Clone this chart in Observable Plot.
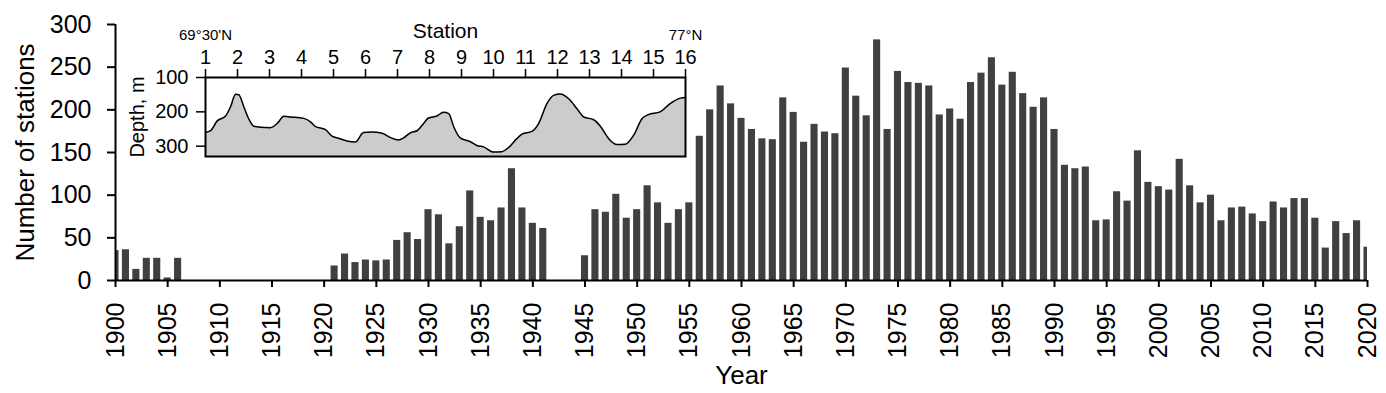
<!DOCTYPE html>
<html>
<head>
<meta charset="utf-8">
<script src="https://cdn.jsdelivr.net/npm/d3@7"></script>
<script src="https://cdn.jsdelivr.net/npm/@observablehq/plot@0.6"></script>
<style>
  html, body { margin: 0; padding: 0; background: white; }
  #wrap { position: relative; width: 1386px; height: 393px; font-family: "Liberation Sans", Arial, sans-serif; }
  #wrap > div, #wrap > svg { position: absolute; left: 0; top: 0; }
  #inset { pointer-events: none; }
</style>
</head>
<body>
<div id="wrap"><div id="main"></div><div id="inset"></div></div>
<script>
// ---- Main chart data ----
const years = d3.range(1900, 2021);
const counts = [
  35, 36, 13, 26, 26, 3, 26,                         // 1900-1906
  0, 0, 0, 0, 0, 0, 0, 0, 0, 0, 0, 0, 0, 0,          // 1907-1920
  17, 31, 21, 24, 23, 24, 47, 56, 48, 83,            // 1921-1930
  77, 43, 63, 105, 74, 70, 85, 131, 85, 67,          // 1931-1940
  61, 0, 0, 0, 29, 83, 80, 101, 73, 83,              // 1941-1950
  111, 91, 67, 83, 91, 169, 200, 228, 207, 190,      // 1951-1960
  177, 166, 165, 214, 197, 162, 183, 174, 172, 249,  // 1961-1970
  216, 193, 282, 177, 245, 232, 231, 228, 194, 201,  // 1971-1980
  189, 232, 243, 261, 229, 244, 219, 203, 214, 177,  // 1981-1990
  135, 131, 133, 70, 71, 104, 93, 152, 115, 110,     // 1991-2000
  106, 142, 111, 91, 100, 70, 85, 86, 78, 69,        // 2001-2010
  92, 85, 96, 96, 73, 38, 69, 55, 70, 39             // 2011-2020
];
const yTicks = [0, 50, 100, 150, 200, 250, 300];
const xTicks = d3.range(1900, 2021, 5);

// ---- Inset data (bottom profile) ----
const stationPos = [1, 1.16, 1.36, 1.62, 1.78, 1.94, 2.04, 2.2, 2.35, 2.51, 2.72, 3.03, 3.24, 3.45, 3.66, 4.07, 4.28, 4.43, 4.75, 4.96,
  5.16, 5.42, 5.68, 5.94, 6.2, 6.52, 6.78, 7.04, 7.19, 7.4, 7.61, 7.77, 7.97, 8.23, 8.44, 8.6, 8.76, 8.96, 9.28, 9.48,
  9.69, 10.0, 10.26, 10.47, 10.73, 10.89, 11.2, 11.41, 11.67, 11.88, 12.09, 12.35, 12.61, 12.82, 13.13, 13.34, 13.6, 13.86, 14.12, 14.38,
  14.64, 14.84, 15.21, 15.52, 15.84, 16];
const depth = [260, 255, 227, 213, 186, 149, 150, 186, 220, 242, 245, 246, 234, 213, 215, 219, 229, 242, 252, 271,
  277, 285, 288, 260, 259, 262, 275, 282, 276, 261, 255, 239, 218, 212, 201, 205, 244, 276, 287, 298,
  302, 317, 316, 304, 278, 265, 257, 234, 176, 152, 148, 162, 191, 215, 223, 242, 278, 295, 294, 268,
  220, 208, 200, 176, 160, 158];
const stationTicks = d3.range(1, 17);
const depthTicks = [100, 200, 300];
const depthDomain = [100, 330];
const latLabels = ["69°30'N", "77°N"];

const FONT = "'Liberation Sans', Arial, sans-serif";
const bars = years.map((y, i) => ({year: y, count: counts[i]})).filter(d => d.count > 0);
const barHalf = 0.34;

const main = Plot.plot({
  width: 1386, height: 393,
  marginLeft: 115, marginRight: 19, marginTop: 24, marginBottom: 113,
  style: {fontFamily: FONT, color: "black", background: "white"},
  x: {type: "linear", domain: [1900, 2020]},
  y: {domain: [0, 300]},
  marks: [
    Plot.rectY(bars, {x1: d => d.year - barHalf, x2: d => d.year + barHalf, y1: 0, y2: "count", fill: "#404040", clip: true}),
    Plot.axisY({ticks: yTicks, tickSize: 8, tickPadding: 16, fontSize: 25, strokeWidth: 2, label: null, tickFormat: d => String(d)}),
    Plot.axisX({ticks: xTicks, tickSize: 7, tickPadding: 15, tickRotate: -90, fontSize: 25, strokeWidth: 2, label: null, tickFormat: d => String(d)}),
    Plot.ruleX([1900], {stroke: "black", strokeWidth: 2}),
    Plot.ruleY([0], {stroke: "black", strokeWidth: 2}),
    Plot.text(["Number of stations"], {frameAnchor: "left", rotate: -90, dx: -82, textAnchor: "middle", lineAnchor: "bottom", fontSize: 26, fill: "black"}),
    Plot.text(["Year"], {frameAnchor: "bottom", dy: 103, lineAnchor: "bottom", fontSize: 26, fill: "black"})
  ]
});
document.getElementById("main").appendChild(main);

const prof = stationPos.map((s, i) => ({s, d: depth[i]}));
const inset = Plot.plot({
  width: 1386, height: 170,
  marginLeft: 205, marginRight: 701, marginTop: 77, marginBottom: 14,
  style: {fontFamily: FONT, color: "black", background: "transparent"},
  x: {domain: [1, 16]},
  y: {domain: depthDomain, reverse: true},
  marks: [
    Plot.areaY(prof, {x: "s", y1: "d", y2: () => depthDomain[1], fill: "#cccccc", curve: "monotone-x"}),
    Plot.line(prof, {x: "s", y: "d", stroke: "black", strokeWidth: 1.5, curve: "monotone-x"}),
    Plot.frame({stroke: "black", strokeWidth: 2}),
    Plot.axisX({anchor: "top", ticks: stationTicks, tickSize: 9, tickPadding: 5, fontSize: 20, strokeWidth: 1.5, label: null, tickFormat: d => String(d)}),
    Plot.axisY({ticks: depthTicks, tickSize: 9, tickPadding: 8, fontSize: 20, strokeWidth: 1.5, label: null, tickFormat: d => String(d)}),
    Plot.text(["Station"], {frameAnchor: "top", dy: -40, lineAnchor: "bottom", fontSize: 21, fill: "black"}),
    Plot.text(latLabels, {x: [1, 16], frameAnchor: "top", dy: -38, lineAnchor: "bottom", fontSize: 15, fill: "black"}),
    Plot.text(["Depth, m"], {frameAnchor: "left", rotate: -90, dx: -62, textAnchor: "middle", lineAnchor: "bottom", fontSize: 20, fill: "black"})
  ]
});
document.getElementById("inset").appendChild(inset);
</script>
</body>
</html>
